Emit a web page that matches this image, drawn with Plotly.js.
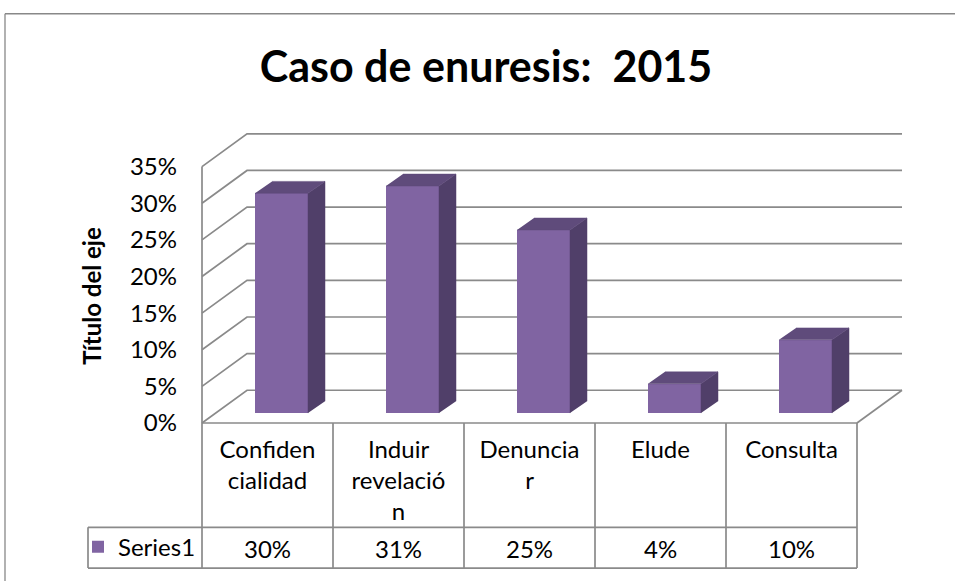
<!DOCTYPE html>
<html>
<head>
<meta charset="utf-8">
<script src="https://cdn.plot.ly/plotly-3.0.1.min.js"></script>
<style>
  html, body { margin: 0; padding: 0; background: #ffffff; }
  #chart { width: 955px; height: 581px; }
</style>
</head>
<body>
<div id="chart"></div>
<script>
// ---------------- DATA ----------------
const categories = ["Confidencialidad", "Induir revelación", "Denunciar", "Elude", "Consulta"];
const categoryLabels = ["Confiden<br>cialidad", "Induir<br>revelació<br>n", "Denuncia<br>r", "Elude", "Consulta"];
const seriesName = "Series1";
const values = [30, 31, 25, 4, 10];
const valueLabels = ["30%", "31%", "25%", "4%", "10%"];
const yTickValues = [0, 5, 10, 15, 20, 25, 30, 35];
const yTickLabels = ["0%", "5%", "10%", "15%", "20%", "25%", "30%", "35%"];
const chartTitle = "Caso de enuresis:\u00a0 2015";
const yAxisTitle = "Título del eje";

// ---------------- GEOMETRY / STYLE ----------------
const FIG_W = 955, FIG_H = 581;
const PX_PER_CAT = 131;          // pixels per category on the front plane
const PX_PER_PCT = 7.375;        // pixels per percent
const L = 196, R = 908, T = 128, B = 428;
const W = R - L, H = B - T;
const xMin = -0.5 - (202 - L) / PX_PER_CAT;
const xMax = xMin + W / PX_PER_CAT;
const yMin = -(B - 425) / PX_PER_PCT;
const yMax = (425 - T) / PX_PER_PCT;

const WALL_DX = 45 / PX_PER_CAT, WALL_DY = 33 / PX_PER_PCT;      // depth of the 3D box
const PLANE_DX = 14 / PX_PER_CAT, PLANE_DY = 10 / PX_PER_PCT;    // bar plane inside the box
const BAR_W = 53 / PX_PER_CAT;
const BAR_DX = 17 / PX_PER_CAT, BAR_DY = 12 / PX_PER_PCT;        // bar depth
const BAR_OFFSET = PLANE_DX - BAR_W / 2;

const FRONT = "#8064A2", SIDE = "#503F69", TOP = "#5F4B7B";
const GRID = "#8a8a8a";
const FONT = "Lato, 'Open Sans', sans-serif";
const FS = 24;

const px = p => (p - L) / W;      // pixel -> paper x
const py = p => (B - p) / H;      // pixel -> paper y

const idx = categories.map((_, i) => i);

// ---------------- TRACES ----------------
const bars = {
  type: "bar",
  name: seriesName,
  x: idx,
  y: values,
  base: PLANE_DY,
  width: BAR_W,
  offset: BAR_OFFSET,
  marker: { color: FRONT, line: { width: 0 } },
  hoverinfo: "skip",
  showlegend: true
};

const sideX = [], sideY = [], topX = [], topY = [];
values.forEach((v, i) => {
  const xl = i + BAR_OFFSET, xr = xl + BAR_W;
  const b = PLANE_DY, t = PLANE_DY + v;
  sideX.push(xr, xr, xr + BAR_DX, xr + BAR_DX, null);
  sideY.push(b, t, t + BAR_DY, b + BAR_DY, null);
  topX.push(xl, xr, xr + BAR_DX, xl + BAR_DX, null);
  topY.push(t, t, t + BAR_DY, t + BAR_DY, null);
});
const sides = {
  type: "scatter", mode: "lines", x: sideX, y: sideY, fill: "toself",
  fillcolor: SIDE, line: { color: SIDE, width: 0.5 }, hoverinfo: "skip", showlegend: false
};
const tops = {
  type: "scatter", mode: "lines", x: topX, y: topY, fill: "toself",
  fillcolor: TOP, line: { color: TOP, width: 0.5 }, hoverinfo: "skip", showlegend: false
};

// ---------------- SHAPES ----------------
const shapes = [];
const xFront0 = -0.5, xFront1 = categories.length - 0.5;
yTickValues.forEach(v => {
  shapes.push({
    type: "path", xref: "x", yref: "y", layer: "below",
    path: `M ${xFront0},${v} L ${xFront0 + WALL_DX},${v + WALL_DY} L ${xFront1 + WALL_DX},${v + WALL_DY}`,
    line: { color: GRID, width: 1.7 }
  });
});
const yTop = yTickValues[yTickValues.length - 1];
shapes.push({ type: "line", xref: "x", yref: "y", layer: "below", x0: xFront0, x1: xFront0, y0: 0, y1: yTop, line: { color: GRID, width: 1.7 } });
shapes.push({ type: "line", xref: "x", yref: "y", layer: "below", x0: xFront0, x1: xFront1, y0: 0, y1: 0, line: { color: GRID, width: 1.7 } });
shapes.push({ type: "line", xref: "x", yref: "y", layer: "below", x0: xFront1, x1: xFront1 + WALL_DX, y0: 0, y1: WALL_DY, line: { color: GRID, width: 1.7 } });

// data table grid
for (let k = 0; k <= categories.length; k++) {
  shapes.push({ type: "line", xref: "x", yref: "paper", x0: -0.5 + k, x1: -0.5 + k, y0: py(425), y1: py(571), line: { color: GRID, width: 1.7 } });
}
[530, 571].forEach(p => {
  shapes.push({ type: "line", xref: "paper", yref: "paper", x0: px(88), x1: px(202 + PX_PER_CAT * categories.length), y0: py(p), y1: py(p), line: { color: GRID, width: 1.7 } });
});
shapes.push({ type: "line", xref: "paper", yref: "paper", x0: px(88), x1: px(88), y0: py(530), y1: py(571), line: { color: GRID, width: 1.7 } });

// chart outer border
shapes.push({ type: "line", xref: "paper", yref: "paper", x0: px(5), x1: px(960), y0: py(13), y1: py(13), line: { color: "#888888", width: 1.3 } });
shapes.push({ type: "line", xref: "paper", yref: "paper", x0: px(5), x1: px(5), y0: py(13), y1: py(590), line: { color: "#888888", width: 1.3 } });

// ---------------- ANNOTATIONS ----------------
const annotations = values.map((v, i) => ({
  xref: "x", yref: "paper", x: i, y: py(551), text: valueLabels[i],
  showarrow: false, xanchor: "center", yanchor: "middle",
  font: { family: FONT, size: FS, color: "#000" }
}));
annotations.push({
  xref: "paper", yref: "paper", x: px(92), y: py(297), text: yAxisTitle, textangle: -90,
  showarrow: false, xanchor: "center", yanchor: "middle",
  font: { family: FONT, size: FS, color: "#000", weight: "bold" }
});

// ---------------- LAYOUT ----------------
const layout = {
  width: FIG_W, height: FIG_H,
  margin: { l: L, r: FIG_W - R, t: T, b: FIG_H - B, pad: 0 },
  paper_bgcolor: "#ffffff", plot_bgcolor: "rgba(0,0,0,0)",
  title: {
    text: chartTitle, xref: "container", yref: "container",
    x: 486 / FIG_W, xanchor: "center", y: 1 - 67 / FIG_H, yanchor: "middle",
    font: { family: FONT, size: 43, weight: "bold", color: "#000" }
  },
  xaxis: {
    range: [xMin, xMax], tickmode: "array", tickvals: idx, ticktext: categoryLabels,
    showgrid: false, zeroline: false, showline: false, ticks: "",
    ticklabelstandoff: 7,
    tickfont: { family: FONT, size: FS, color: "#000" }, fixedrange: true
  },
  yaxis: {
    range: [yMin, yMax], tickmode: "array", tickvals: yTickValues, ticktext: yTickLabels,
    showgrid: false, zeroline: false, showline: false, ticks: "",
    ticklabelstandoff: 18,
    tickfont: { family: FONT, size: FS, color: "#000" }, fixedrange: true
  },
  showlegend: true,
  legend: {
    x: px(78), y: py(550), xanchor: "left", yanchor: "middle",
    xref: "paper", yref: "paper",
    bgcolor: "rgba(0,0,0,0)", borderwidth: 0,
    font: { family: FONT, size: FS, color: "#000" }
  },
  shapes: shapes,
  annotations: annotations,
  bargap: 0
};

Plotly.newPlot("chart", [bars, sides, tops], layout, { displayModeBar: false, staticPlot: true });
</script>
</body>
</html>
